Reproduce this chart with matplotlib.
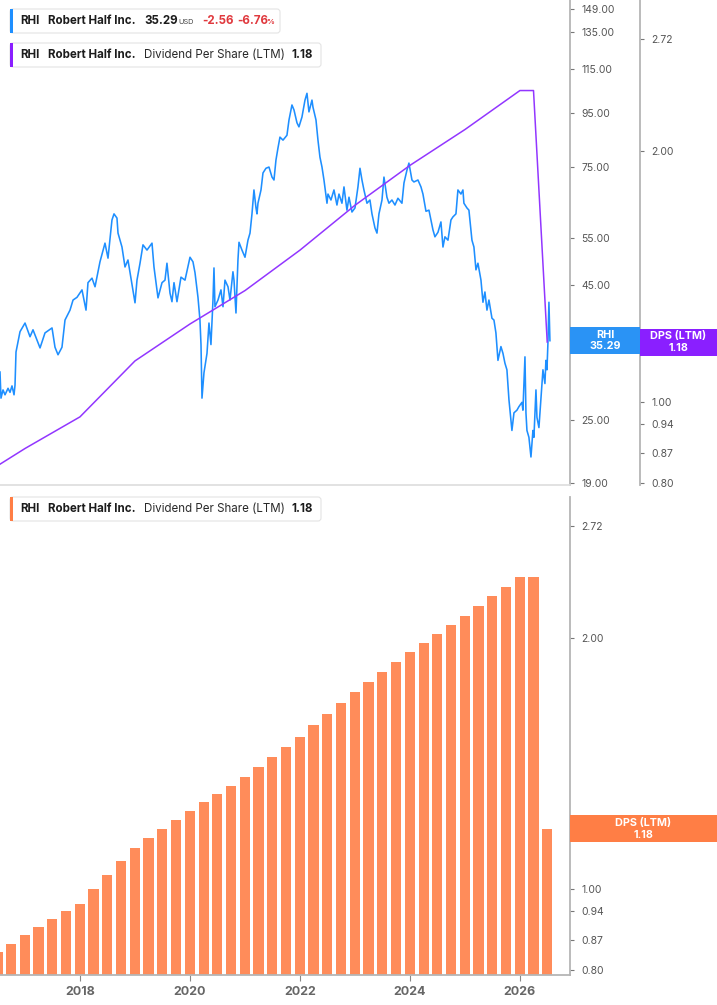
import matplotlib
matplotlib.use('Agg')
import matplotlib.pyplot as plt
from matplotlib.patches import FancyBboxPatch, Rectangle
from matplotlib.transforms import IdentityTransform
from matplotlib.ticker import NullLocator
import pandas as pd

plt.rcParams['font.family'] = ['Inter', 'DejaVu Sans']

# RHI close (decimal year, USD)
price_years = [
    2016.545, 2016.563, 2016.600, 2016.636, 2016.691, 2016.727, 2016.763, 2016.800, 2016.818, 2016.836,
    2016.909, 2017.000, 2017.091, 2017.145, 2017.273, 2017.363, 2017.491, 2017.545, 2017.600, 2017.672,
    2017.727, 2017.818, 2017.873, 2017.945, 2018.036, 2018.109, 2018.145, 2018.218, 2018.273, 2018.363,
    2018.454, 2018.509, 2018.581, 2018.618, 2018.672, 2018.691, 2018.763, 2018.818, 2018.872, 2018.945,
    2019.000, 2019.036, 2019.091, 2019.145, 2019.218, 2019.309, 2019.345, 2019.400, 2019.418, 2019.491,
    2019.545, 2019.581, 2019.636, 2019.672, 2019.709, 2019.763, 2019.836, 2019.909, 2020.000, 2020.054,
    2020.091, 2020.145, 2020.181, 2020.200, 2020.218, 2020.254, 2020.309, 2020.345, 2020.381, 2020.418,
    2020.436, 2020.454, 2020.509, 2020.563, 2020.600, 2020.636, 2020.691, 2020.727, 2020.781, 2020.800,
    2020.836, 2020.872, 2020.891, 2020.945, 2021.000, 2021.054, 2021.091, 2021.127, 2021.163, 2021.200,
    2021.218, 2021.236, 2021.291, 2021.327, 2021.381, 2021.436, 2021.491, 2021.527, 2021.563, 2021.600,
    2021.636, 2021.691, 2021.763, 2021.800, 2021.854, 2021.891, 2021.945, 2021.981, 2022.036, 2022.091,
    2022.127, 2022.163, 2022.218, 2022.236, 2022.291, 2022.327, 2022.363, 2022.400, 2022.436, 2022.491,
    2022.509, 2022.563, 2022.618, 2022.672, 2022.709, 2022.763, 2022.800, 2022.854, 2022.891, 2022.945,
    2023.000, 2023.054, 2023.091, 2023.127, 2023.163, 2023.218, 2023.272, 2023.309, 2023.363, 2023.400,
    2023.436, 2023.491, 2023.527, 2023.581, 2023.618, 2023.672, 2023.727, 2023.781, 2023.854, 2023.891,
    2023.945, 2023.981, 2024.036, 2024.072, 2024.145, 2024.200, 2024.236, 2024.291, 2024.345, 2024.418,
    2024.454, 2024.509, 2024.563, 2024.600, 2024.636, 2024.691, 2024.745, 2024.781, 2024.836, 2024.872,
    2024.927, 2024.963, 2024.981, 2025.036, 2025.072, 2025.127, 2025.163, 2025.200, 2025.236, 2025.291,
    2025.327, 2025.363, 2025.400, 2025.436, 2025.491, 2025.527, 2025.563, 2025.600, 2025.654, 2025.691,
    2025.727, 2025.763, 2025.800, 2025.854, 2025.891, 2025.945, 2025.981, 2026.036, 2026.054, 2026.091,
    2026.109, 2026.127, 2026.163, 2026.200, 2026.236, 2026.254, 2026.291, 2026.309, 2026.345, 2026.381,
    2026.418, 2026.454, 2026.472, 2026.491, 2026.509, 2026.527, 2026.545]
price_vals = [
    30.8, 27.5, 28.5, 27.9, 28.7, 28.2, 29.0, 27.9, 29.1, 33.6,
    36.7, 38.1, 35.9, 37.0, 34.2, 36.5, 37.3, 34.3, 33.2, 34.3,
    38.6, 40.3, 42.1, 42.6, 44.0, 40.3, 45.4, 46.3, 44.6, 49.7,
    53.9, 50.5, 59.6, 61.2, 60.1, 56.3, 53.0, 48.6, 50.1, 45.0,
    41.6, 45.9, 49.4, 53.5, 52.3, 53.9, 48.6, 44.0, 42.5, 45.4,
    45.9, 49.4, 43.4, 41.8, 45.4, 41.8, 46.5, 45.9, 50.7, 49.7,
    47.4, 42.6, 38.6, 34.7, 27.5, 30.7, 33.4, 38.1, 34.7, 42.1,
    48.4, 40.9, 42.1, 44.0, 40.9, 45.9, 44.6, 42.1, 47.6, 45.9,
    39.8, 50.1, 54.1, 52.3, 50.7, 54.6, 56.3, 61.2, 67.9, 62.8,
    61.2, 64.1, 67.9, 73.1, 74.6, 75.0, 71.8, 70.9, 77.3, 81.5,
    85.4, 84.3, 86.1, 92.0, 98.2, 96.1, 90.9, 89.3, 93.2, 100.3,
    103.3, 95.3, 100.3, 97.3, 92.0, 84.3, 78.3, 75.0, 70.9, 64.1,
    66.7, 65.0, 67.9, 63.6, 66.7, 64.1, 68.8, 62.2, 65.8, 61.7,
    62.8, 68.8, 74.6, 70.9, 67.9, 64.1, 65.0, 61.2, 57.6, 56.3,
    61.2, 65.0, 71.8, 65.8, 64.1, 65.0, 63.6, 65.5, 64.1, 70.0,
    74.0, 76.3, 70.9, 70.3, 70.9, 68.8, 66.7, 61.9, 62.2, 57.1,
    55.4, 56.5, 59.1, 53.0, 55.4, 54.6, 59.6, 60.4, 61.2, 67.9,
    66.7, 67.9, 64.1, 62.8, 62.2, 54.6, 53.0, 48.0, 49.4, 45.9,
    41.7, 43.6, 40.3, 42.1, 38.9, 38.6, 36.5, 32.4, 34.4, 33.4,
    32.0, 31.1, 27.3, 23.9, 25.8, 26.1, 26.5, 27.0, 26.1, 32.9,
    25.8, 23.9, 23.2, 21.3, 23.9, 23.2, 28.5, 25.3, 24.2, 27.3,
    31.1, 29.3, 32.4, 31.1, 35.0, 41.7, 35.29]

# dividend per share (LTM), quarter ends 2015-12-31 .. 2026-06-30
dps_vals = [0.80, 0.82, 0.84, 0.86, 0.88, 0.90, 0.92, 0.94, 0.96, 1.00,
            1.04, 1.08, 1.12, 1.15, 1.18, 1.21, 1.24, 1.27, 1.30, 1.33,
            1.36, 1.40, 1.44, 1.48, 1.52, 1.57, 1.62, 1.67, 1.72, 1.77,
            1.82, 1.87, 1.92, 1.97, 2.02, 2.07, 2.12, 2.18, 2.24, 2.30,
            2.36, 2.36, 1.18]
dps_dates = pd.date_range('2015-12-31', periods=len(dps_vals), freq='QE')

price_ticks = [19, 25, 35, 45, 55, 75, 95, 115, 135, 149]
dps_ticks = [0.80, 0.87, 0.94, 1.00, 2.00, 2.72]
year_ticks = [2018, 2020, 2022, 2024, 2026]

last_price = 35.29
last_dps = 1.18

W, H = 717, 1005
BLUE = '#1E8FFF'
BLUE_BOX = '#2A93F5'
PURPLE = '#9236FF'
PURPLE_BOX = '#8A1FFF'
ORANGE = '#FF8C5A'
ORANGE_BOX = '#FF7E45'
RED = '#E0393E'
SPINE = '#B5B5B5'

dps_x = [d.year + (d.dayofyear) / 365.25 for d in dps_dates]
# annual (year-end) points plus the latest two quarters drawn as line
line_idx = [i for i, d in enumerate(dps_dates) if d.month == 12 or i >= len(dps_vals) - 2]

fig = plt.figure(figsize=(W / 100, H / 100), dpi=100)
ax1 = fig.add_axes([0, 520 / H, 570 / W, 485 / H])
ax1b = ax1.twinx()
ax2 = fig.add_axes([0, 30 / H, 570 / W, 478 / H])

xlim = (2016.545, 2026.91)

# ---- top panel
ax1.plot(price_years, price_vals, color=BLUE, lw=1.15, zorder=3)
ax1b.plot([dps_x[i] for i in line_idx], [dps_vals[i] for i in line_idx],
          color=PURPLE, lw=1.1, zorder=3)

ax1.set_yscale('log')
ax1b.set_yscale('log')
ax1.set_xlim(*xlim)
ax1.set_ylim(18.86, 154.9)
ax1b.set_ylim(0.7956, 3.029)

ax1.yaxis.tick_right()
ax1.set_yticks(price_ticks)
ax1.set_yticklabels([f'{v:.2f}' for v in price_ticks])
ax1.yaxis.set_minor_locator(NullLocator())
ax1.set_xticks([])
ax1b.set_yticks(dps_ticks)
ax1b.set_yticklabels([f'{v:.2f}' for v in dps_ticks])
ax1b.yaxis.set_minor_locator(NullLocator())

for a in (ax1, ax1b):
    a.tick_params(axis='y', which='major', direction='out', length=3, width=0.8,
                  color='#777777', labelsize=7.5, labelcolor='#555555', pad=5)
    for s in ('left', 'top'):
        a.spines[s].set_visible(False)
ax1.spines['right'].set_color(SPINE)
ax1.spines['right'].set_linewidth(1.3)
ax1.spines['bottom'].set_color('#DDDDDD')
ax1.spines['bottom'].set_linewidth(1.2)
ax1b.spines['bottom'].set_visible(False)
ax1b.spines['right'].set_position(('outward', 50.4))
ax1b.spines['right'].set_color(SPINE)
ax1b.spines['right'].set_linewidth(1.3)

# ---- bottom panel
ax2.set_yscale('log')
ax2.bar(dps_x, dps_vals, width=0.185, color=ORANGE, edgecolor='none', zorder=2)
ax2.set_xlim(*xlim)
ax2.set_ylim(0.789, 2.946)
ax2.yaxis.tick_right()
ax2.set_yticks(dps_ticks)
ax2.set_yticklabels([f'{v:.2f}' for v in dps_ticks])
ax2.yaxis.set_minor_locator(NullLocator())
ax2.tick_params(axis='y', which='major', direction='out', length=3, width=0.8,
                color='#777777', labelsize=7.5, labelcolor='#555555', pad=5)
ax2.set_xticks(year_ticks)
ax2.set_xticklabels([str(y) for y in year_ticks], fontweight='bold')
ax2.tick_params(axis='x', direction='out', length=4, width=0.8, color='#888888',
                labelsize=9, labelcolor='#666666', pad=4)
for s in ('left', 'top'):
    ax2.spines[s].set_visible(False)
for s in ('right', 'bottom'):
    ax2.spines[s].set_color(SPINE)
    ax2.spines[s].set_linewidth(1.3)


# ---- helpers in pixel coordinates (origin top-left)
def ftext(x, y, s, **kw):
    kw.setdefault('va', 'center')
    kw.setdefault('ha', 'left')
    fig.text(x / W, 1 - y / H, s, **kw)


def legend_box(y0, x1, color):
    fig.add_artist(FancyBboxPatch((10, H - y0 - 24), x1 - 10, 24,
                                  boxstyle='round,pad=0,rounding_size=3',
                                  transform=IdentityTransform(), fc='white',
                                  ec='#E4E4E4', lw=0.8, zorder=5))
    fig.add_artist(Rectangle((10, H - y0 - 24), 3, 24, transform=IdentityTransform(),
                             fc=color, ec='none', zorder=6))


def side_box(x0, x1, yc, color, line1, line2):
    fig.add_artist(Rectangle((x0, yc - 13.5), x1 - x0, 27, transform=IdentityTransform(),
                             fc=color, ec='none', zorder=6))
    xc = (x0 + x1) / 2
    for dy, s in ((5.8, line1), (-5.8, line2)):
        fig.text(xc / W, (yc + dy) / H, s, ha='center', va='center', color='white',
                 fontsize=7.8, fontweight='bold', zorder=7)


dark = '#1C1C1C'
fs = 8.3

legend_box(9, 280, BLUE)
ftext(20.5, 21, 'RHI', fontsize=fs, fontweight='bold', color=dark, zorder=7)
ftext(48, 21, 'Robert Half Inc.', fontsize=fs, fontweight='bold', color=dark, zorder=7)
ftext(144, 21, '35.29', fontsize=fs, fontweight='bold', color=dark, zorder=7)
ftext(178.5, 22, 'USD', fontsize=5.3, color='#444444', zorder=7)
ftext(202, 21, '-2.56', fontsize=fs, fontweight='bold', color=RED, zorder=7)
ftext(237, 21, '-6.76', fontsize=fs, fontweight='bold', color=RED, zorder=7)
ftext(266, 22, '%', fontsize=5.5, fontweight='bold', color=RED, zorder=7)

for y0, color in ((43, PURPLE_BOX), (497, ORANGE_BOX)):
    yc = y0 + 12
    legend_box(y0, 321, color)
    ftext(20.5, yc, 'RHI', fontsize=fs, fontweight='bold', color=dark, zorder=7)
    ftext(48, yc, 'Robert Half Inc.', fontsize=fs, fontweight='bold', color=dark, zorder=7)
    ftext(144, yc, 'Dividend Per Share (LTM)', fontsize=fs, color='#2A2A2A', zorder=7)
    ftext(291.5, yc, '1.18', fontsize=fs, fontweight='bold', color=dark, zorder=7)

# last-value tags on the right axes
y_price = ax1.transData.transform((2020, last_price))[1]
y_dps_top = ax1b.transData.transform((2020, last_dps))[1]
y_dps_bot = ax2.transData.transform((2020, last_dps))[1]
side_box(570, 640, y_price, BLUE_BOX, 'RHI', f'{last_price:.2f}')
side_box(640, 717, y_dps_top, PURPLE_BOX, 'DPS (LTM)', f'{last_dps:.2f}')
side_box(570, 717, y_dps_bot, ORANGE_BOX, 'DPS (LTM)', f'{last_dps:.2f}')

fig.savefig('out.png', dpi=100)
